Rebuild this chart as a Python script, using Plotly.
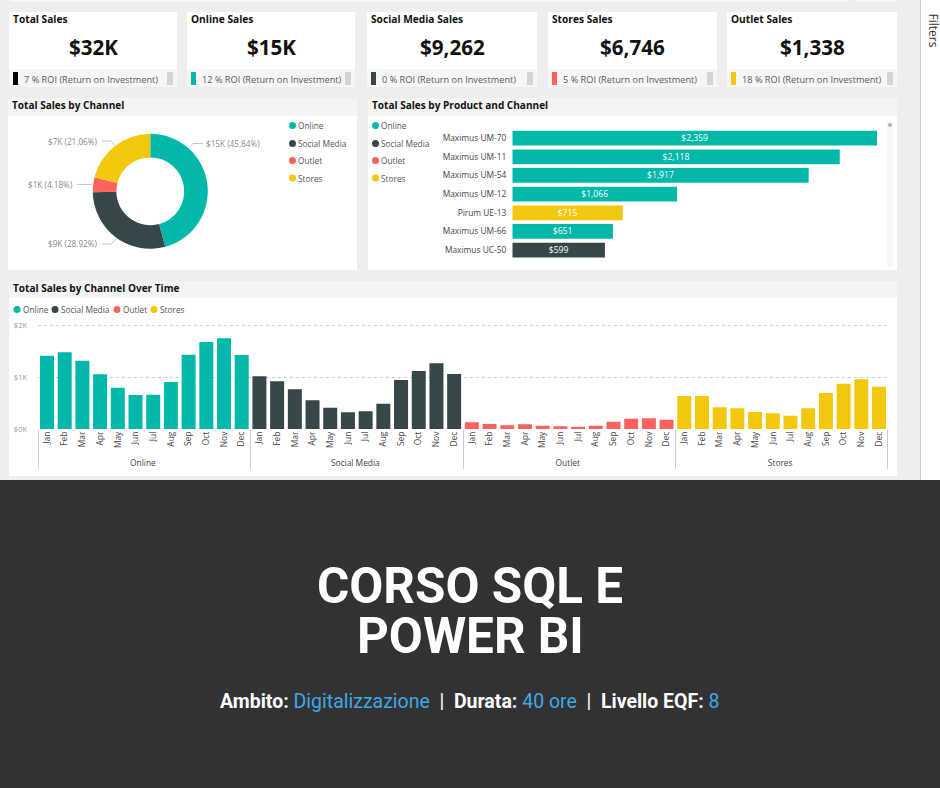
import plotly.graph_objects as go

W, H = 940, 788
FONT = "Open Sans"
TEAL, SLATE, RED, YELLOW = "#01B8AA", "#374649", "#FD625E", "#F2C80F"

channels = ["Online", "Social Media", "Outlet", "Stores"]
channel_colors = [TEAL, SLATE, RED, YELLOW]
channel_shares = [45.84, 28.92, 4.18, 21.06]

card_titles = ["Total Sales", "Online Sales", "Social Media Sales", "Stores Sales", "Outlet Sales"]
card_values = ["$32K", "$15K", "$9,262", "$6,746", "$1,338"]
card_roi = ["7 % ROI (Return on Investment)", "12 % ROI (Return on Investment)",
            "0 % ROI (Return on Investment)", "5 % ROI (Return on Investment)",
            "18 % ROI (Return on Investment)"]
card_colors = ["#000000", TEAL, SLATE, RED, YELLOW]

products = ["Maximus UM-70", "Maximus UM-11", "Maximus UM-54", "Maximus UM-12",
            "Pirum UE-13", "Maximus UM-66", "Maximus UC-50"]
product_sales = [2359, 2118, 1917, 1066, 715, 651, 599]
product_labels = ["$2,359", "$2,118", "$1,917", "$1,066", "$715", "$651", "$599"]
product_colors = [TEAL, TEAL, TEAL, TEAL, YELLOW, TEAL, SLATE]

months = ["Jan", "Feb", "Mar", "Apr", "May", "Jun", "Jul", "Aug", "Sep", "Oct", "Nov", "Dec"]
online = [1419, 1484, 1323, 1058, 800, 658, 665, 910, 1439, 1684, 1755, 1432]
social = [1019, 923, 768, 555, 413, 323, 342, 490, 948, 1123, 1271, 1065]
outlet = [129, 97, 71, 90, 65, 52, 45, 65, 142, 200, 206, 181]
stores = [639, 639, 419, 400, 329, 303, 258, 400, 697, 877, 961, 819]
monthly = [online, social, outlet, stores]


def fx(p):
    return p / W


def fy(p):
    return 1 - p / H


shapes, notes = [], []


def rect(x0, y0, x1, y1, color, layer="below"):
    shapes.append(dict(type="rect", xref="paper", yref="paper", x0=fx(x0), x1=fx(x1),
                       y0=fy(y0), y1=fy(y1), fillcolor=color, line_width=0, layer=layer))


def text(x, y, s, size=10, color="#444444", anchor="left", **kw):
    notes.append(dict(xref="paper", yref="paper", x=fx(x), y=fy(y), text=s, showarrow=False,
                      xanchor=anchor, yanchor="middle", align=anchor,
                      font=dict(family=kw.pop("family", FONT), size=size, color=color),
                      borderpad=0, **kw))


def dot(x, y, r, color):
    shapes.append(dict(type="circle", xref="paper", yref="paper", x0=fx(x - r), x1=fx(x + r),
                       y0=fy(y + r), y1=fy(y - r), fillcolor=color, line_width=0, layer="above"))


def path(points, color="#C8C8C8"):
    d = "M" + " L".join(f"{fx(a)},{fy(b)}" for a, b in points)
    shapes.append(dict(type="path", xref="paper", yref="paper", path=d,
                       line=dict(color=color, width=1), layer="above"))


# page background, sidebar and dark banner
rect(0, 0, 921, 480, "#EEEEEF")
rect(10, 0, 848, 1.5, "#F8F8F8")
rect(856, 0, 897, 1.5, "#F8F8F8")
rect(921, 0, 940, 480, "#FFFFFF")
rect(920, 0, 921, 480, "#CFCFD1")
rect(0, 480, 940, 788, "#323234")
text(933.5, 30, "Filters", 12, "#333333", "center", textangle=90)

# KPI cards
card_x = [(9, 177), (187, 355), (367, 537), (548, 717), (727, 897)]
for (x0, x1), title, value, roi, color in zip(card_x, card_titles, card_values, card_roi, card_colors):
    rect(x0, 12, x1, 69, "#FFFFFF")
    rect(x0, 69, x1, 87, "#F6F6F7")
    text(x0 + 3, 19, f"<b>{title}</b>", 10.2, "#111111")
    text((x0 + x1) / 2, 47, f"<b>{value}</b>", 20.6, "#111111", "center")
    rect(x0 + 4, 72, x0 + 9, 85, color)
    text(x0 + 14, 79, roi, 9.2, "#5A5A5A")
    rect(x1 - 10, 72, x1 - 4, 85, "#D4D4D4")

# panels
rect(8, 98, 357, 116, "#F4F4F5")
rect(8, 116, 357, 270, "#FFFFFF")
text(11, 105, "<b>Total Sales by Channel</b>", 10.05, "#111111")
rect(368, 98, 897, 116, "#F4F4F5")
rect(368, 116, 897, 270, "#FFFFFF")
text(371, 105, "<b>Total Sales by Product and Channel</b>", 10.05, "#111111")
rect(9, 281, 897, 298, "#F4F4F5")
rect(9, 298, 897, 476, "#FFFFFF")
text(12, 288, "<b>Total Sales by Channel Over Time</b>", 10.05, "#111111")

# legends
for ch, col, y in zip(channels, channel_colors, [125.5, 143.5, 160.5, 178]):
    dot(292.5, y, 3.5, col)
    text(297, y, ch, 8.3, "#555555")
    dot(375.5, y, 3.5, col)
    text(380, y, ch, 8.3, "#555555")
for ch, col, x in zip(channels, channel_colors, [17, 55, 117, 154]):
    dot(x, 309.5, 3.5, col)
    text(x + 4.5, 309.5, ch, 8.3, "#555555")

# donut call-outs
for (x, y, s, anchor) in [(204.5, 143.5, "$15K (45.84%)", "left"),
                          (99, 141, "$7K (21.06%)", "right"),
                          (74, 184.5, "$1K (4.18%)", "right"),
                          (99, 244, "$9K (28.92%)", "right")]:
    text(x, y, s, 8.2, "#8A8A8A", anchor)
path([(190, 147), (193, 143.5), (203, 143.5)])
path([(102, 141), (111, 141), (115, 145)])
path([(77, 184.5), (92, 184.5)])
path([(102, 244), (111, 244), (116, 239)])

# scrollbar
rect(887, 121, 893, 267, "#F7F7F8")
dot(890, 125, 2, "#B5B5B5")

# banner text
text(470, 586, "<b>CORSO SQL E</b>", 49.4, "#FFFFFF", "center", family="Roboto")
text(470, 636, "<b>POWER BI</b>", 49.4, "#FFFFFF", "center", family="Roboto")
BLUE = "#3FA9E0"
banner = (f"<b>Ambito:</b> <span style='color:{BLUE}'>Digitalizzazione</span>"
          f"  |  <b>Durata:</b> <span style='color:{BLUE}'>40 ore</span>"
          f"  |  <b>Livello EQF:</b> <span style='color:{BLUE}'>8</span>")
text(470, 701, banner, 19.5, "#FFFFFF", "center", family="Roboto")

fig = go.Figure()

# donut
cx, cy, R = 150.3, 191.3, 57.5
fig.add_trace(go.Pie(labels=channels, values=channel_shares, hole=0.59, sort=False,
                     direction="clockwise", rotation=0, textinfo="none",
                     marker=dict(colors=channel_colors), showlegend=False,
                     domain=dict(x=[fx(cx - R), fx(cx + R)], y=[fy(cy + R), fy(cy - R)])))

# product bars
fig.add_trace(go.Bar(x=product_sales, y=products, orientation="h", marker_color=product_colors,
                     marker_line_width=0, text=product_labels, textposition="inside",
                     insidetextanchor="middle", textangle=0, constraintext="none",
                     textfont=dict(color="#FFFFFF", size=8.6, family=FONT), showlegend=False,
                     xaxis="x", yaxis="y"))

# monthly bars
for ch, col, vals in zip(channels, channel_colors, monthly):
    fig.add_trace(go.Bar(x=[[ch] * 12, months], y=vals, marker_color=col, marker_line_width=0,
                         showlegend=False, xaxis="x2", yaxis="y2"))

fig.update_layout(
    width=W, height=H, margin=dict(l=0, r=0, t=0, b=0), autosize=False,
    paper_bgcolor="#FFFFFF", plot_bgcolor="rgba(0,0,0,0)",
    barmode="overlay", bargap=0.21, shapes=shapes, annotations=notes,
    font=dict(family=FONT, color="#444444"),
    xaxis=dict(domain=[fx(512.3), fx(877)], range=[0, 2359], visible=False, fixedrange=True),
    yaxis=dict(domain=[fy(259.5), fy(128.8)], autorange="reversed", showgrid=False, showline=False,
               ticks="", tickfont=dict(size=8.4, color="#444444"), automargin=False,
               ticklabelstandoff=5),
    xaxis2=dict(domain=[fx(38.15), fx(887.85)], type="multicategory", tickangle=-90,
                tickfont=dict(size=8.4, color="#444444"), showgrid=False, showline=False,
                ticks="", showdividers=True, dividercolor="#CCCCCC", dividerwidth=1,
                automargin=False, anchor="y2"),
    yaxis2=dict(domain=[fy(429), fy(320.5)], range=[0, 2100], tickvals=[0, 1000, 2000],
                ticktext=["$0K", "$1K", "$2K"], tickfont=dict(size=7.6, color="#9A9A9A"),
                showgrid=True, griddash="dot", gridcolor="#CFCFCF", gridwidth=1, zeroline=False,
                showline=False, ticks="", automargin=False, anchor="x2", ticklabelstandoff=10),
)

fig.write_html("out.html", config=dict(displayModeBar=False),
               post_script="document.body.style.margin='0';document.body.style.overflow='hidden';")
